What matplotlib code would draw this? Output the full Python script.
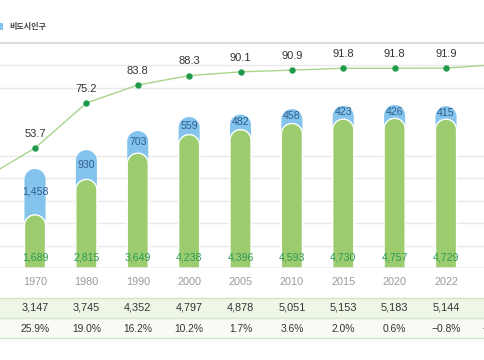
import numpy as np
import matplotlib
matplotlib.use("Agg")
import matplotlib.pyplot as plt
from matplotlib.patches import Polygon, Rectangle
import matplotlib.transforms as mtransforms

plt.rcParams['font.family'] = ['Liberation Sans', 'Noto Sans CJK KR', 'DejaVu Sans']

# ---------------- data ----------------
years = ['1960', '1970', '1980', '1990', '2000', '2005', '2010', '2015', '2020', '2022', '2023']
urban = [977, 1689, 2815, 3649, 4238, 4396, 4593, 4730, 4757, 4729, 4718]
nonurban = [1522, 1458, 930, 703, 559, 482, 458, 423, 426, 415, 415]
growth = ['', '25.9%', '19.0%', '16.2%', '10.2%', '1.7%', '3.6%', '2.0%', '0.6%', '\u22120.8%', '\u22120.2%']
ratio = [39.1, 53.7, 75.2, 83.8, 88.3, 90.1, 90.9, 91.8, 91.8, 91.9, 93.6]
legend_label = '비도시인구'

# ---------------- style ----------------
GREEN = '#9dcc6f'
BLUE = '#84c4ec'
LINE = '#a9d58c'
DOT = '#1f9a4a'
GREEN_TXT = '#2a9a58'
BLUE_TXT = '#2d5d8a'
DARK = '#333333'
GRAY = '#9a9a9a'

W, H = 485, 360
fig = plt.figure(figsize=(W / 100, H / 100), dpi=100)

# table background bands (drawn beneath everything)
r1_top, r1_bot, r2_bot = (H - 298) / H, (H - 318) / H, (H - 338) / H
bg = fig.add_axes([0, 0, 1, 1], zorder=-5)
bg.set_xlim(0, 1)
bg.set_ylim(0, 1)
bg.axis('off')
bg.add_patch(Rectangle((0, r1_bot), 1, r1_top - r1_bot, facecolor='#eef6e6', edgecolor='none'))
bg.add_patch(Rectangle((0, r2_bot), 1, r1_bot - r2_bot, facecolor='#f8fbf5', edgecolor='none'))
for yy in (r1_top, r1_bot, r2_bot):
    bg.axhline(yy, color='#d3e6c2', lw=1.0)
bg.add_patch(Rectangle((-3 / W, (H - 30) / H), 6 / W, 7 / H, facecolor=BLUE,
                       edgecolor='none', clip_on=False))

ax = fig.add_axes([0, 92 / H, 1, 225 / H])
ax.patch.set_alpha(0)
x = np.arange(len(years))
ax.set_xlim(0.3187, 9.759)
ax.set_ylim(0, 7150)
for s in ax.spines.values():
    s.set_visible(False)
ax.set_xticks([])
ax.set_yticks([])

# grid lines
step = 715
for k in (1, 2, 3, 4, 5, 8, 9):
    ax.axhline(step * k, color='#e9e9e9', lw=1.0, zorder=0)
ax.axhline(7150, color='#dedede', lw=1.6, zorder=0, clip_on=False)
ax.axhline(0, color='#c4c4c4', lw=1.0, zorder=3)

# rounded bars
bar_w = 0.41
px_per_x = W / (9.759 - 0.3187)
px_per_y = 225.0 / 7150
ry = (bar_w * px_per_x / 2) / px_per_y
rx = bar_w / 2
t = np.linspace(0, np.pi, 40)


def rounded_bar(xc, top, color, z, ec='none', lw=0):
    cap_y = top - ry
    verts = [(xc - rx, 0), (xc + rx, 0)]
    verts += [(xc + rx * np.cos(a), cap_y + ry * np.sin(a)) for a in t]
    verts += [(xc - rx, 0)]
    ax.add_patch(Polygon(verts, closed=True, facecolor=color, edgecolor=ec,
                         lw=lw, zorder=z))


totals = [u + n for u, n in zip(urban, nonurban)]
for xi, u, n, tot in zip(x, urban, nonurban, totals):
    rounded_bar(xi, tot, BLUE, 1)
    rounded_bar(xi, u, GREEN, 2, ec='white', lw=1.0)
    ax.annotate(f'{u:,}', (xi, 0), xytext=(0, 7.3), textcoords='offset points',
                ha='center', va='center', fontsize=7.6, color=GREEN_TXT, zorder=5)
    ax.text(xi, (u + tot) / 2, f'{n:,}', ha='center', va='center',
            fontsize=7.6, color=BLUE_TXT, zorder=5)

# line (urban ratio)
ax2 = ax.twinx()
ax2.set_ylim(-3.58, 103.87)
ax2.set_xlim(0.3187, 9.759)
for s in ax2.spines.values():
    s.set_visible(False)
ax2.set_yticks([])
ax2.plot(x, ratio, color=LINE, lw=1.0, zorder=3)
ax2.plot(x, ratio, 'o', color=DOT, ms=3.6, zorder=4)
for xi, r in zip(x, ratio):
    ax2.annotate(f'{r:.1f}', (xi, r), xytext=(0, 10.3), textcoords='offset points',
                 ha='center', va='center', fontsize=8, color=DARK)

# x labels and table rows
bt = mtransforms.blended_transform_factory(ax.transData, fig.transFigure)
for xi, yr, tot, g in zip(x, years, totals, growth):
    ax.text(xi, (H - 282) / H, yr, transform=bt, ha='center', va='center',
            fontsize=7.8, color=GRAY, clip_on=False)
    ax.text(xi, (H - 308) / H, f'{tot:,}', transform=bt, ha='center', va='center',
            fontsize=7.8, color=DARK, clip_on=False)
    ax.text(xi, (H - 329) / H, g, transform=bt, ha='center', va='center',
            fontsize=7.4, color=DARK, clip_on=False)

# legend fragment
fig.text(9 / W, (H - 26.5) / H, legend_label, ha='left', va='center',
         fontsize=5.8, fontweight='bold', color='#444444')

fig.savefig('out.png', dpi=100, facecolor='white')
